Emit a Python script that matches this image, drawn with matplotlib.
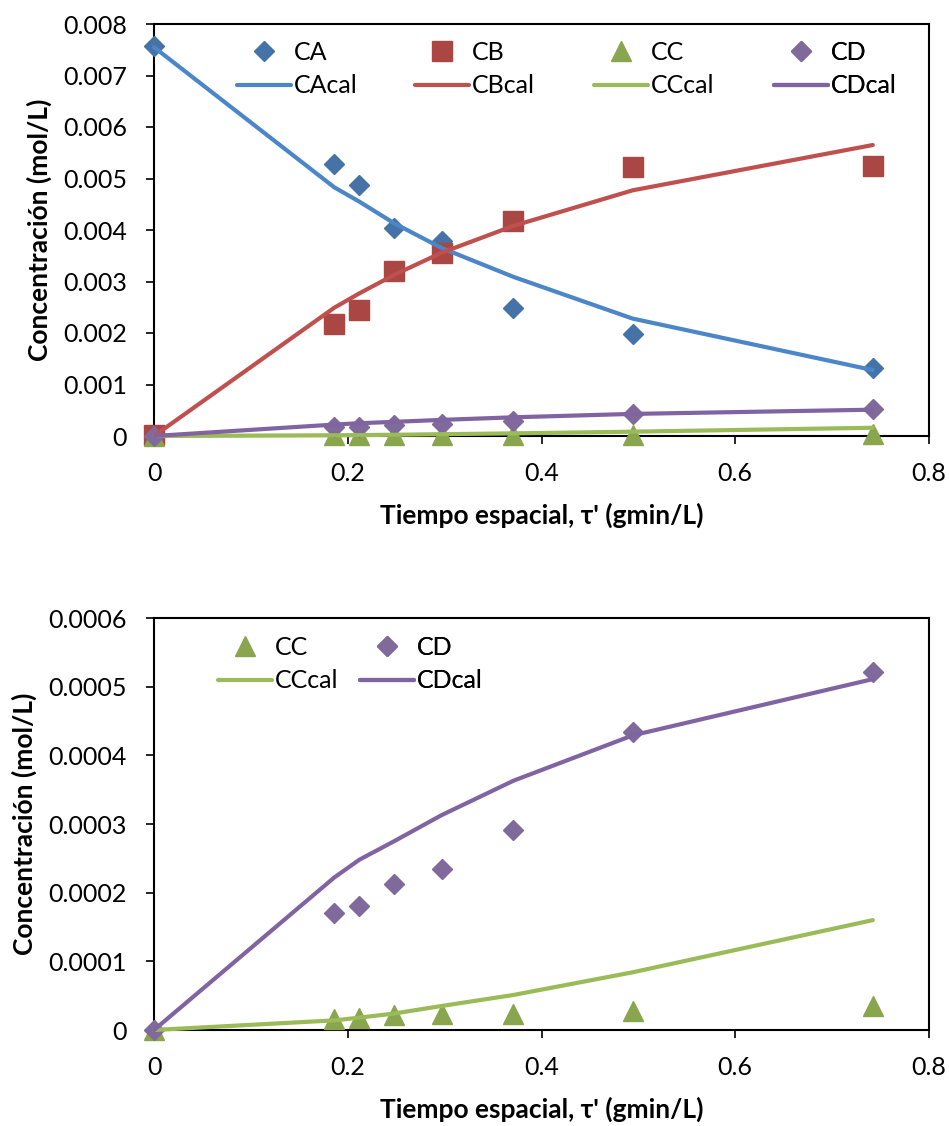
import numpy as np
import matplotlib.pyplot as plt
from matplotlib.ticker import FuncFormatter

plt.rcParams['font.family'] = ['Lato', 'DejaVu Sans']

# tiempo espacial (gmin/L)
tau = [0, 0.186, 0.212, 0.248, 0.297, 0.371, 0.494, 0.742]

# datos experimentales (mol/L)
CA = [0.00758, 0.00529, 0.00487, 0.00403, 0.00378, 0.00249, 0.00198, 0.00133]
CB = [0.00002, 0.00218, 0.00245, 0.00320, 0.00355, 0.00417, 0.00523, 0.00525]
CC = [0.0, 0.000016, 0.000018, 0.000022, 0.000024, 0.000024, 0.000028, 0.000035]
CD = [0.0, 0.000170, 0.000181, 0.000212, 0.000234, 0.000291, 0.000434, 0.000522]

# valores calculados (mol/L)
CAcal = [0.00755, 0.00483, 0.00455, 0.00413, 0.00365, 0.00309, 0.00228, 0.00128]
CBcal = [0.0, 0.00249, 0.00277, 0.00313, 0.00356, 0.00408, 0.00477, 0.00565]
CCcal = [0.0, 0.000014, 0.000018, 0.000024, 0.000035, 0.000051, 0.000084, 0.000160]
CDcal = [0.0, 0.000222, 0.000248, 0.000275, 0.000313, 0.000363, 0.000429, 0.000511]

colores = {'a_m': '#4572A7', 'a_l': '#4A86C8',
           'b_m': '#AA4643', 'b_l': '#C0504D',
           'c_m': '#89A54E', 'c_l': '#9BBB59',
           'd_m': '#80699B', 'd_l': '#8064A2'}

W, H = 949, 1126
fig = plt.figure(figsize=(W / 100, H / 100), dpi=100)
ax1 = fig.add_axes([154 / W, 1 - 436 / H, 775 / W, 412 / H])
ax2 = fig.add_axes([154 / W, 1 - 1030 / H, 775 / W, 412 / H])

def marcas(ax, x, y, mk, ms, c, lab):
    return ax.plot(x, y, linestyle='none', marker=mk, ms=ms, c=c, mec=c,
                   label=lab, clip_on=False, zorder=3)[0]

def linea(ax, x, y, c, lab):
    return ax.plot(x, y, c=c, lw=3, solid_capstyle='round', label=lab,
                   clip_on=False, zorder=4)[0]

def leyenda(ax, hs, labs, x_px, y_px):
    lg = ax.legend(hs, labs, frameon=False, fontsize=18, loc='upper left',
                   bbox_to_anchor=(x_px / W, 1 - y_px / H), bbox_transform=fig.transFigure,
                   borderpad=0, borderaxespad=0, handlelength=2.16,
                   handletextpad=0.12, labelspacing=0.41)
    ax.add_artist(lg)

# ---- grafico superior ----
hA = marcas(ax1, tau, CA, 'D', 10.2, colores['a_m'], 'CA')
hB = marcas(ax1, tau, CB, 's', 14.5, colores['b_m'], 'CB')
hC = marcas(ax1, tau, CC, '^', 15, colores['c_m'], 'CC')
hD = marcas(ax1, tau, CD, 'D', 10.2, colores['d_m'], 'CD')
lA = linea(ax1, tau, CAcal, colores['a_l'], 'CAcal')
lB = linea(ax1, tau, CBcal, colores['b_l'], 'CBcal')
lC = linea(ax1, tau, CCcal, colores['c_l'], 'CCcal')
lD = linea(ax1, tau, CDcal, colores['d_l'], 'CDcal')
ax1.set_ylim(0, 0.008)
ax1.set_yticks(np.arange(0, 0.0081, 0.001))
leyenda(ax1, [hA, lA], ['CA', 'CAcal'], 237, 41)
leyenda(ax1, [hB, lB], ['CB', 'CBcal'], 415, 41)
leyenda(ax1, [hC, lC], ['CC', 'CCcal'], 594, 41)
leyenda(ax1, [hD, lD], ['CD', 'CDcal'], 774, 41)

# ---- grafico inferior ----
hC2 = marcas(ax2, tau, CC, '^', 15, colores['c_m'], 'CC')
hD2 = marcas(ax2, tau, CD, 'D', 10.2, colores['d_m'], 'CD')
lC2 = linea(ax2, tau, CCcal, colores['c_l'], 'CCcal')
lD2 = linea(ax2, tau, CDcal, colores['d_l'], 'CDcal')
ax2.set_ylim(0, 0.0006)
ax2.set_yticks(np.arange(0, 0.00061, 0.0001))
leyenda(ax2, [hC2, lC2], ['CC', 'CCcal'], 218, 636)
leyenda(ax2, [hD2, lD2], ['CD', 'CDcal'], 360, 636)

fmt = FuncFormatter(lambda v, p: '%g' % round(v, 6))
for ax in (ax1, ax2):
    ax.set_xlim(0, 0.8)
    ax.set_xticks([0, 0.2, 0.4, 0.6, 0.8])
    ax.xaxis.set_major_formatter(fmt)
    ax.yaxis.set_major_formatter(fmt)
    ax.tick_params(direction='out', length=5.5, width=1.2, labelsize=18)
    ax.tick_params(axis='x', pad=13)
    ax.tick_params(axis='y', pad=14)
    for s in ax.spines.values():
        s.set_linewidth(1.5)
        s.set_color('black')
    ax.set_xlabel("Tiempo espacial, τ' (gmin/L)", fontsize=19, fontweight='bold', labelpad=13)
    ax.set_ylabel('Concentración (mol/L)', fontsize=19, fontweight='bold', labelpad=8)

fig.savefig('out.png', dpi=100)
